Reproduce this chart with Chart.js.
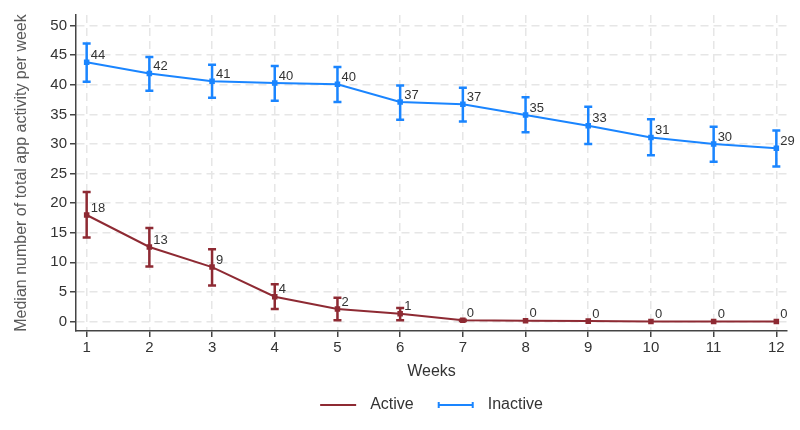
<!DOCTYPE html>
<html>
<head>
<meta charset="utf-8">
<script src="https://cdn.jsdelivr.net/npm/chart.js@4/dist/chart.umd.min.js"></script>
<style>
  html, body { margin: 0; padding: 0; background: #fff; }
</style>
</head>
<body>
<canvas id="chart" width="800" height="430"></canvas>
<script>
// data
const weeks = [1, 2, 3, 4, 5, 6, 7, 8, 9, 10, 11, 12];
const yTicks = [0, 5, 10, 15, 20, 25, 30, 35, 40, 45, 50];

const activeMedian = [18.0, 12.6, 9.2, 4.2, 2.1, 1.3, 0.2, 0.15, 0.07, 0, 0, 0];
const activeLow    = [14.2, 9.3, 6.1, 2.1, 0.2, 0.2, 0.1, 0.1, 0.05, 0, 0, 0];
const activeHigh   = [21.9, 15.8, 12.2, 6.3, 4.0, 2.3, 0.3, 0.2, 0.1, 0, 0, 0];
const activeLabels = ['18', '13', '9', '4', '2', '1', '0', '0', '0', '0', '0', '0'];

const inactiveMedian = [43.8, 41.9, 40.6, 40.3, 40.1, 37.1, 36.7, 34.9, 33.1, 31.1, 30.0, 29.3];
const inactiveLow    = [40.5, 39.0, 37.8, 37.3, 37.1, 34.1, 33.8, 32.0, 30.0, 28.1, 27.0, 26.2];
const inactiveHigh   = [47.0, 44.7, 43.4, 43.2, 43.0, 39.9, 39.5, 37.9, 36.3, 34.2, 32.9, 32.3];
const inactiveLabels = ['44', '42', '41', '40', '40', '37', '37', '35', '33', '31', '30', '29'];

const RED = '#8e2a33';
const BLUE = '#1a85ff';
const FONT = '"Liberation Sans", Arial, sans-serif';
const LEGEND_BOX = 42;  // room reserved in front of each legend text

const toPoints = vals => weeks.map((w, i) => ({ x: w, y: vals[i] }));

// error bars + value labels, drawn through the scales
const errorBars = {
  id: 'errorBars',
  afterDatasetsDraw(chart) {
    const { ctx, scales: { x, y } } = chart;
    chart.data.datasets.forEach(ds => {
      ctx.save();
      ctx.strokeStyle = ds.borderColor;
      ctx.lineWidth = 2.5;
      weeks.forEach((w, i) => {
        const px = x.getPixelForValue(w);
        const lo = y.getPixelForValue(ds.errLow[i]);
        const hi = y.getPixelForValue(ds.errHigh[i]);
        if (Math.abs(lo - hi) < 1) return;
        ctx.beginPath();
        ctx.moveTo(px, lo); ctx.lineTo(px, hi);
        ctx.moveTo(px - 4, lo); ctx.lineTo(px + 4, lo);
        ctx.moveTo(px - 4, hi); ctx.lineTo(px + 4, hi);
        ctx.stroke();
      });
      ctx.fillStyle = '#333';
      ctx.font = '13px ' + FONT;
      ctx.textAlign = 'left';
      ctx.textBaseline = 'middle';
      weeks.forEach((w, i) => {
        const px = x.getPixelForValue(w);
        const py = y.getPixelForValue(ds.data[i].y);
        ctx.fillText(ds.valueLabels[i], px + 4, py - 7);
      });
      ctx.restore();
    });
  },
  afterDraw(chart) {
    // legend keys: plain line for Active, capped line for Inactive
    const boxes = chart.legend.legendHitBoxes;
    if (!boxes) return;
    const { ctx } = chart;
    ctx.save();
    ctx.lineWidth = 2;
    boxes.forEach((b, i) => {
      const ds = chart.data.datasets[i];
      const x1 = b.left + LEGEND_BOX - 42;
      const x2 = b.left + LEGEND_BOX - 6;
      const cy = Math.round(b.top + b.height / 2);
      ctx.strokeStyle = ds.borderColor;
      ctx.beginPath();
      ctx.moveTo(x1, cy); ctx.lineTo(x2, cy);
      if (i === 1) {
        ctx.moveTo(x1 + 1, cy - 3); ctx.lineTo(x1 + 1, cy + 3);
        ctx.moveTo(x2 - 1, cy - 3); ctx.lineTo(x2 - 1, cy + 3);
      }
      ctx.stroke();
    });
    ctx.restore();
  }
};

new Chart(document.getElementById('chart'), {
  type: 'line',
  data: {
    datasets: [
      {
        label: 'Active',
        data: toPoints(activeMedian),
        errLow: activeLow,
        errHigh: activeHigh,
        valueLabels: activeLabels,
        borderColor: RED,
        backgroundColor: RED,
        borderWidth: 2,
        pointStyle: 'rect',
        pointRadius: 2.5,
        tension: 0
      },
      {
        label: 'Inactive',
        data: toPoints(inactiveMedian),
        errLow: inactiveLow,
        errHigh: inactiveHigh,
        valueLabels: inactiveLabels,
        borderColor: BLUE,
        backgroundColor: BLUE,
        borderWidth: 2,
        pointStyle: 'rect',
        pointRadius: 2.5,
        tension: 0
      }
    ]
  },
  options: {
    responsive: false,
    animation: false,
    layout: { padding: { top: 15, right: 13, left: 0, bottom: 7 } },
    scales: {
      x: {
        type: 'linear',
        min: 0.83,
        max: 12.17,
        afterBuildTicks: s => { s.ticks = weeks.map(v => ({ value: v })); },
        afterFit: s => { s.height = 42; },
        ticks: { color: '#333', font: { family: FONT, size: 15 }, padding: 2 },
        grid: {
          color: '#e6e6e6', lineWidth: 1.5,
          tickLength: 6, tickColor: '#444', tickWidth: 1.5, tickBorderDash: []
        },
        border: { display: true, color: '#444', width: 1.5, dash: [8, 5] },
        title: { display: true, text: 'Weeks', color: '#333', font: { family: FONT, size: 16 }, padding: { top: 0, bottom: -8 } }
      },
      y: {
        type: 'linear',
        min: -1.6,
        max: 51.8,
        afterBuildTicks: s => { s.ticks = yTicks.map(v => ({ value: v })); },
        afterFit: s => { s.width = 76; },
        ticks: { color: '#333', font: { family: FONT, size: 15 }, padding: 3 },
        grid: {
          color: '#e6e6e6', lineWidth: 1.5,
          tickLength: 6, tickColor: '#444', tickWidth: 1.5, tickBorderDash: []
        },
        border: { display: true, color: '#444', width: 1.5, dash: [8, 5] },
        title: { display: true, text: 'Median number of total app activity per week', color: '#5a5a5a', font: { family: FONT, size: 16 }, padding: { top: 12, bottom: 0 } }
      }
    },
    plugins: {
      legend: {
        position: 'bottom',
        fullSize: false,
        labels: {
          boxWidth: LEGEND_BOX,
          boxHeight: 2,
          padding: 24,
          color: '#333',
          font: { family: FONT, size: 16 },
          generateLabels: chart => chart.data.datasets.map((ds, i) => ({
            text: ds.label,
            fillStyle: 'rgba(0,0,0,0)',
            strokeStyle: 'rgba(0,0,0,0)',
            lineWidth: 0,
            hidden: false,
            datasetIndex: i,
            fontColor: '#333'
          }))
        }
      },
      tooltip: { enabled: false }
    }
  },
  plugins: [errorBars]
});
</script>
</body>
</html>
